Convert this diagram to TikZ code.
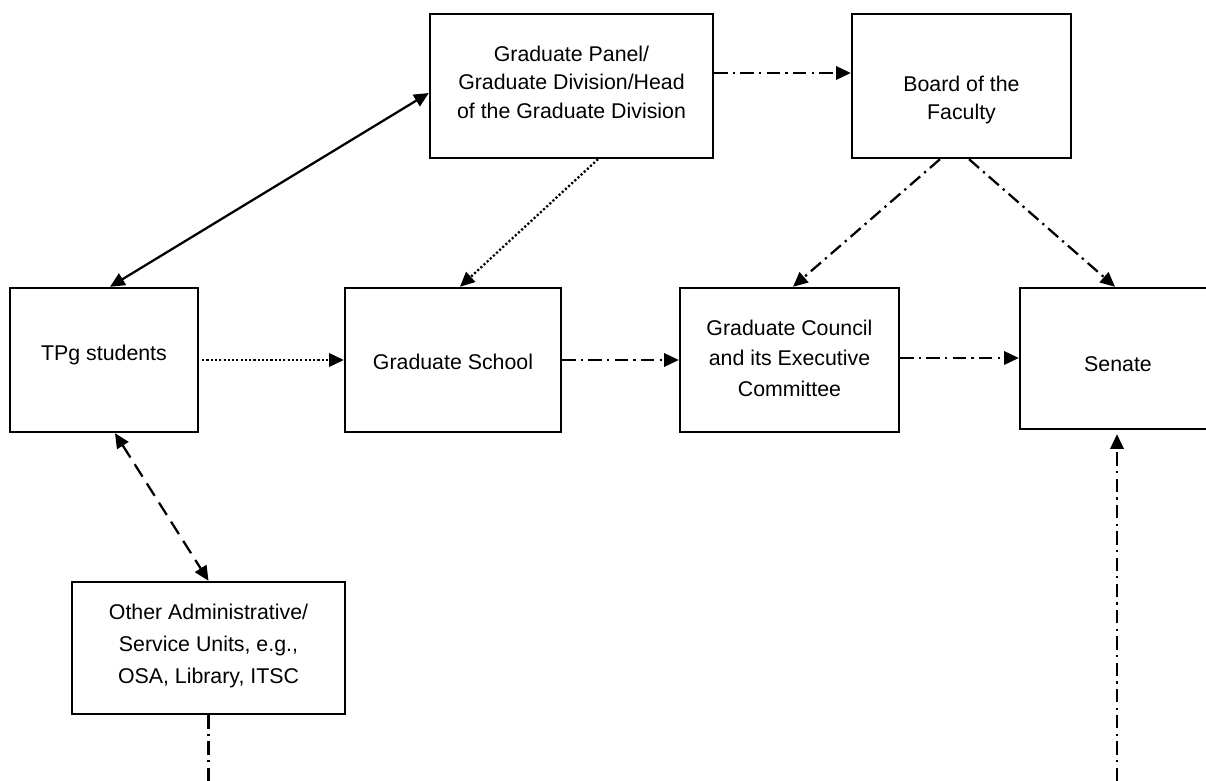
\documentclass[tikz,border=0pt]{standalone}
\usepackage{fontspec}
\setmainfont{Liberation Sans}
\usetikzlibrary{arrows.meta,calc}
\begin{document}
\begin{tikzpicture}[x=0.75pt,y=-0.75pt,
  box/.style 2 args={draw,line width=1.8pt,inner sep=0pt,minimum width=#1*0.75pt,minimum height=#2*0.75pt},
  txt/.style={inner sep=0pt,align=center,font=\fontsize{16pt}{#1}\selectfont},
  conn/.style={line width=1.7pt},
  tip/.style={-{Triangle[length=11pt,width=10pt]}},
  tips/.style={{Triangle[length=11pt,width=10pt]}-{Triangle[length=11pt,width=10pt]}},
  ddot/.style={dash pattern=on 10pt off 4pt on 1.7pt off 4pt},
  dotline/.style={dash pattern=on 1.6pt off 1.6pt},
  dashline/.style={dash pattern=on 11pt off 6pt}]
\useasboundingbox (0,0) rectangle (1206,781);
% boxes
\node[box={283}{144}] (Panel) at (571.5,86) {};
\node[box={219}{144}] (Board) at (961.5,86) {};
\node[box={188}{144}] (TPg) at (104,360) {};
\node[box={216}{144}] (GS) at (453,360) {};
\node[box={219}{144}] (GC) at (789.5,360) {};
\node[box={196}{141}] (Senate) at (1118,358.5) {};
\node[box={273}{132}] (Other) at (208.5,648) {};
% texts
\node[txt=21.4pt] (tPanel) at (571.5,82) {Graduate Panel/\\Graduate Division/Head\\of the Graduate Division};
\node[txt=20.5pt] (tBoard) at (961.5,100) {Board of the\\Faculty};
\node[txt=20pt] (tTPg) at (104,355) {TPg students};
\node[txt=20pt] (tGS) at (453,362) {Graduate School};
\node[txt=22.9pt] (tGC) at (789.5,358) {Graduate Council\\and its Executive\\Committee};
\node[txt=20pt] (tSenate) at (1118,364) {Senate};
\node[txt=24pt] (tOther) at (208.5,646) {Other Administrative/\\Service Units, e.g.,\\OSA, Library, ITSC};
% free ends
\coordinate (oEnd) at (208.5,781);
\coordinate (sStart) at (1117,781);
% connectors
\draw[conn,tips] ($(TPg.north)+(6,0)$) -- ($(Panel.west)+(0,7)$);
\draw[conn,tip,dotline] ($(Panel.south)+(26.5,0)$) -- ($(GS.north)+(7,0)$);
\draw[conn,tip,ddot] ($(Panel.east)+(0,-13)$) -- ($(Board.west)+(0,-13)$);
\draw[conn,tip,ddot] ($(Board.south)+(-21.5,0)$) -- ($(GC.north)+(3.5,0)$);
\draw[conn,tip,ddot] ($(Board.south)+(7.5,0)$) -- ($(Senate.north)+(-3,0)$);
\draw[conn,tip,dotline] ($(TPg.east)+(3,0)$) -- (GS.west);
\draw[conn,tip,ddot] (GS.east) -- (GC.west);
\draw[conn,tip,ddot] ($(GC.east)+(0,-2)$) -- ($(Senate.west)+(0,-0.5)$);
\draw[conn,tips,dashline] ($(TPg.south)+(11,0)$) -- (Other.north);
\draw[conn,ddot] (Other.south) -- (oEnd);
\draw[conn,tip,ddot] (sStart) -- ($(Senate.south)+(-1,4)$);
\end{tikzpicture}
\end{document}
